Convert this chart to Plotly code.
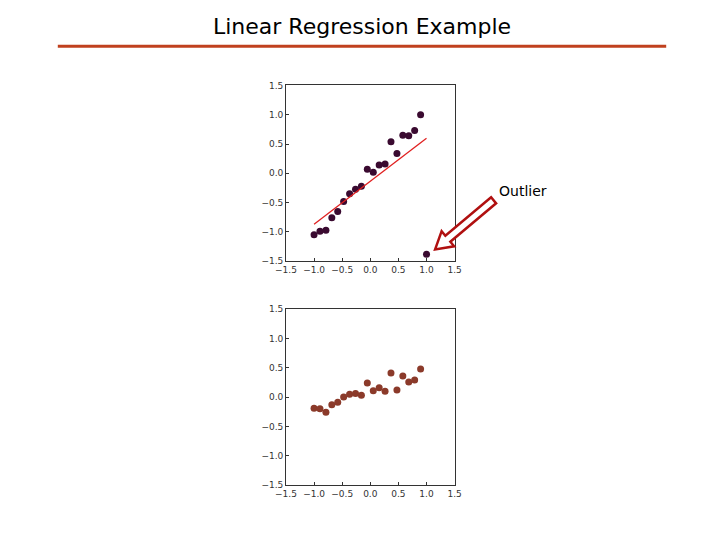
import plotly.graph_objects as go
import numpy as np

x_top = [-1.0,-0.895,-0.789,-0.684,-0.579,-0.474,-0.368,-0.263,-0.158,-0.053,0.053,0.158,0.263,0.368,0.474,0.579,0.684,0.789,0.895,1.0]
y_top = [-1.05,-0.99,-0.97,-0.76,-0.65,-0.48,-0.35,-0.27,-0.22,0.07,0.02,0.14,0.16,0.54,0.34,0.65,0.64,0.73,1.0,-1.38]
fit_x = [-1.0, 1.0]
fit_y = [-0.87, 0.6]
x_bot = x_top[:19]
y_bot = [-0.19,-0.20,-0.26,-0.13,-0.09,0.0,0.05,0.06,0.03,0.24,0.11,0.16,0.10,0.41,0.12,0.36,0.26,0.29,0.48]
ticks = [-1.5,-1.0,-0.5,0.0,0.5,1.0,1.5]
ticktext = [f"{t:.1f}".replace("-", "\u2212") for t in ticks]

W, H = 720, 540
fig = go.Figure()
fig.add_trace(go.Scatter(x=x_top, y=y_top, mode="markers", marker=dict(color="#3a0a30", size=7), xaxis="x", yaxis="y"))
fig.add_trace(go.Scatter(x=fit_x, y=fit_y, mode="lines", line=dict(color="#e02020", width=1.3), xaxis="x", yaxis="y"))
fig.add_trace(go.Scatter(x=x_bot, y=y_bot, mode="markers", marker=dict(color="#8b3a2a", size=7), xaxis="x2", yaxis="y2"))

ax = dict(range=[-1.5,1.5], tickvals=ticks, ticktext=ticktext, showgrid=False, zeroline=False,
          showline=True, mirror=True, linecolor="#333", linewidth=0.8, ticks="inside", ticklen=3,
          tickcolor="#333", tickfont=dict(size=9, color="#333", family="DejaVu Sans"))
xd = [282/W, 455/W]
fig.update_layout(
    width=W, height=H, autosize=False, margin=dict(l=0, r=0, t=0, b=0, pad=0), showlegend=False,
    plot_bgcolor="white", paper_bgcolor="white",
    xaxis=dict(domain=xd, anchor="y", **ax),
    yaxis=dict(domain=[1-261/H, 1-82/H], anchor="x", **ax),
    xaxis2=dict(domain=xd, anchor="y2", **ax),
    yaxis2=dict(domain=[1-489/H, 1-310/H], anchor="x2", **ax),
)
fig.add_annotation(text="Linear Regression Example", x=360/W, y=1-22/H, xref="paper", yref="paper",
                   xanchor="center", yanchor="middle", showarrow=False,
                   font=dict(size=22, family="Comic Sans MS, DejaVu Sans", color="black"))
fig.add_shape(type="line", xref="paper", yref="paper", x0=48/W, x1=672/W, y0=1-42/H, y1=1-42/H,
              line=dict(color="#c0401e", width=3))
fig.add_annotation(text="Outlier", x=525/W, y=1-189/H, xref="paper", yref="paper", showarrow=False,
                   xanchor="center", yanchor="middle",
                   font=dict(size=14, family="DejaVu Sans", color="black"))

# hollow arrow outline
tail = np.array([495.0, 199.0]); head = np.array([435.0, 249.0])
d = head - tail; L = np.linalg.norm(d); u = d / L; p = np.array([-u[1], u[0]])
hl, sw, hw = 17, 4, 10
b = head - u * hl
pts = [tail + p*sw, b + p*sw, b + p*hw, head, b - p*hw, b - p*sw, tail - p*sw]
path = "M " + " L ".join(f"{q[0]/W},{1-q[1]/H}" for q in pts) + " Z"
fig.add_shape(type="path", xref="paper", yref="paper", path=path,
              line=dict(color="#b01010", width=2.5), fillcolor="white")
fig.write_html("out.html", config={"displayModeBar": False},
               post_script="document.body.style.margin='0';document.body.style.overflow='hidden';")
